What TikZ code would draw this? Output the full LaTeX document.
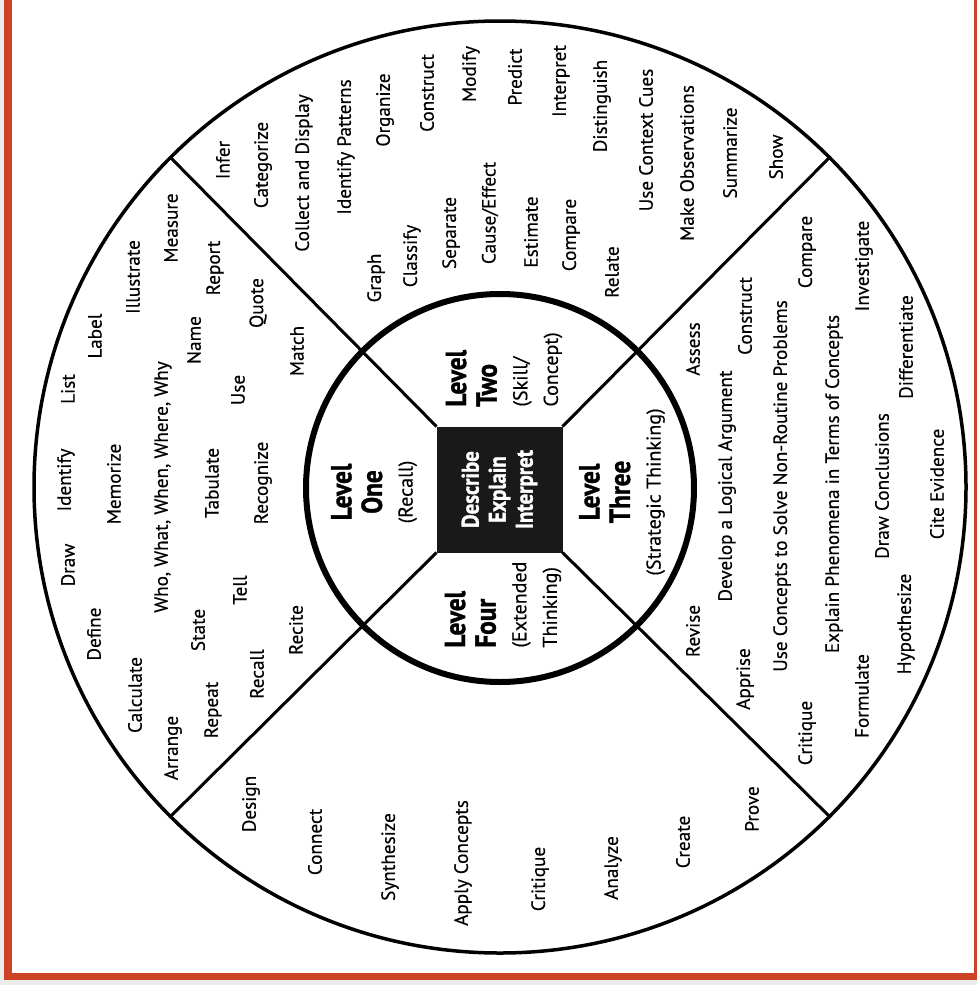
\documentclass[tikz,border=0pt]{standalone}
\usepackage{fontspec}
\setmainfont{PT Sans}[FakeBold=0.3]
\newfontfamily\condsans{PT Sans}[FakeStretch=0.87, BoldFeatures={FakeBold=1.2}]
\definecolor{framered}{RGB}{206,66,38}
\definecolor{pagegrey}{RGB}{236,236,236}
\newcommand{\wordfont}{\fontsize{9.6}{11.5}\selectfont}
\newcommand{\paren}[1]{{\normalfont\fontsize{10}{15.3}\selectfont #1}}

\begin{document}
\begin{tikzpicture}[
  x=0.5pt, y=-0.5pt,
  word/.style={rotate=90, inner sep=0pt, font=\wordfont},
  levelbox/.style={rotate=90, inner sep=0pt, font=\condsans\fontsize{14.5}{15.3}\selectfont},
  ring/.style={circle, draw=black, line width=1.75pt, minimum size=466pt, inner sep=0pt, outer sep=0pt},
  hub/.style={circle, draw=black, line width=3pt, minimum size=194pt, inner sep=0pt, outer sep=0pt},
  core/.style={rectangle, fill=black!90, minimum size=63pt, inner sep=0pt, outer sep=0pt, rotate=90,
    text=white, align=center, font=\condsans\bfseries\fontsize{12}{13.5}\selectfont},
  spoke/.style={line width=1.5pt},
]

% ---- page and frame ----
\path[use as bounding box, fill=pagegrey] (0,0) rectangle (977,985);
\begin{scope}
  \clip (0,0) rectangle (977,985);
  \draw[framered, line width=3.75pt, fill=white] (8,-3.5) rectangle (978,976.5);
\end{scope}

% ---- wheel ----
\node[ring] (rim) at (500,487) {};
\node[hub]  (hub) at (500,488) {};
\node[core] (sq)  at (499.5,489.5) {Describe\\Explain\\Interpret};

% ---- spokes (rotated square: north east is upper left) ----
\draw[spoke] (rim.135) -- (sq.north east);
\draw[spoke] (rim.45)  -- (sq.south east);
\draw[spoke] (rim.-45) -- (sq.south west);
\draw[spoke] (rim.-135) -- (sq.north west);

% ---- level labels ----
\node[levelbox, align=center] (one)   at (374,492) {\textbf{Level}\\\textbf{One}\\\paren{(Recall)}};
\node[levelbox, align=left, anchor=west] (two) at (504,407) {\textbf{Level}\\\textbf{Two}\\\paren{(Skill/}\\\paren{Concept)}};
\node[levelbox, align=center] (three) at (622,492) {\textbf{Level}\\\textbf{Three}\\\paren{(Strategic Thinking)}};
\node[levelbox, align=left, anchor=west] (four) at (503,648) {\textbf{Level}\\\textbf{Four}\\\paren{(Extended}\\\paren{Thinking)}};

% ---- level one: recall ----
\node[word] (o-draw)      at (68,565)  {Draw};
\node[word] (o-identify)  at (66,480)  {Identify};
\node[word] (o-list)      at (68,389)  {List};
\node[word] (o-define)    at (94,634)  {Define};
\node[word] (o-memorize)  at (114,484) {Memorize};
\node[word] (o-label)     at (95,336)  {Label};
\node[word] (o-calculate) at (135,695) {Calculate};
\node[word] (o-illus)     at (133,277) {Illustrate};
\node[word] (o-who)       at (163,487) {Who, What, When, Where, Why};
\node[word] (o-measure)   at (171,228) {Measure};
\node[word] (o-arrange)   at (173,748) {Arrange};
\node[word] (o-state)     at (198,630) {State};
\node[word] (o-name)      at (194,340) {Name};
\node[word] (o-report)    at (215,268) {Report};
\node[word] (o-repeat)    at (213,710) {Repeat};
\node[word] (o-tabulate)  at (212,483) {Tabulate};
\node[word] (o-tell)      at (240,590) {Tell};
\node[word] (o-use)       at (238,390) {Use};
\node[word] (o-recall)    at (257,674) {Recall};
\node[word] (o-recognize) at (263,483) {Recognize};
\node[word] (o-quote)     at (258,303) {Quote};
\node[word] (o-recite)    at (296,630) {Recite};
\node[word] (o-match)     at (297,351) {Match};

% ---- level two: skill/concept ----
\node[word] (t-infer)     at (223,160) {Infer};
\node[word] (t-categ)     at (263,165) {Categorize};
\node[word] (t-collect)   at (304,173) {Collect and Display};
\node[word] (t-patterns)  at (346,147) {Identify Patterns};
\node[word] (t-organize)  at (385,110) {Organize};
\node[word] (t-construct) at (427,93)  {Construct};
\node[word] (t-modify)    at (471,74)  {Modify};
\node[word] (t-predict)   at (515,77)  {Predict};
\node[word] (t-interpret) at (561,81)  {Interpret};
\node[word] (t-disting)   at (602,106) {Distinguish};
\node[word] (t-cues)      at (646,140) {Use Context Cues};
\node[word] (t-observe)   at (687,163) {Make Observations};
\node[word] (t-summarize) at (730,153) {Summarize};
\node[word] (t-show)      at (776,157) {Show};
\node[word] (t-graph)     at (376,278) {Graph};
\node[word] (t-classify)  at (412,256) {Classify};
\node[word] (t-separate)  at (451,233) {Separate};
\node[word] (t-cause)     at (490,213) {Cause/Effect};
\node[word] (t-estimate)  at (531,232) {Estimate};
\node[word] (t-compare)   at (571,235) {Compare};
\node[word] (t-relate)    at (612,272) {Relate};

% ---- level three: strategic thinking ----
\node[word] (h-assess)    at (693,349) {Assess};
\node[word] (h-construct) at (745,316) {Construct};
\node[word] (h-compare)   at (807,252) {Compare};
\node[word] (h-invest)    at (864,266) {Investigate};
\node[word] (h-diff)      at (906,347) {Differentiate};
\node[word] (h-develop)   at (727,486) {Develop a Logical Argument};
\node[word] (h-useconc)   at (782,486) {Use Concepts to Solve Non-Routine Problems};
\node[word] (h-explain)   at (834,484) {Explain Phenomena in Terms of Concepts};
\node[word] (h-drawconc)  at (882,486) {Draw Conclusions};
\node[word] (h-cite)      at (937,484) {Cite Evidence};
\node[word] (h-revise)    at (693,631) {Revise};
\node[word] (h-apprise)   at (745,679) {Apprise};
\node[word] (h-critique)  at (807,733) {Critique};
\node[word] (h-formulate) at (862,696) {Formulate};
\node[word] (h-hypo)      at (906,624) {Hypothesize};

% ---- level four: extended thinking ----
\node[word] (f-design)    at (251,804) {Design};
\node[word] (f-connect)   at (315,842) {Connect};
\node[word] (f-synth)     at (390,857) {Synthesize};
\node[word] (f-apply)     at (463,863) {Apply Concepts};
\node[word] (f-critique)  at (540,879) {Critique};
\node[word] (f-analyze)   at (613,868) {Analyze};
\node[word] (f-create)    at (683,842) {Create};
\node[word] (f-prove)     at (752,809) {Prove};

\end{tikzpicture}
\end{document}
